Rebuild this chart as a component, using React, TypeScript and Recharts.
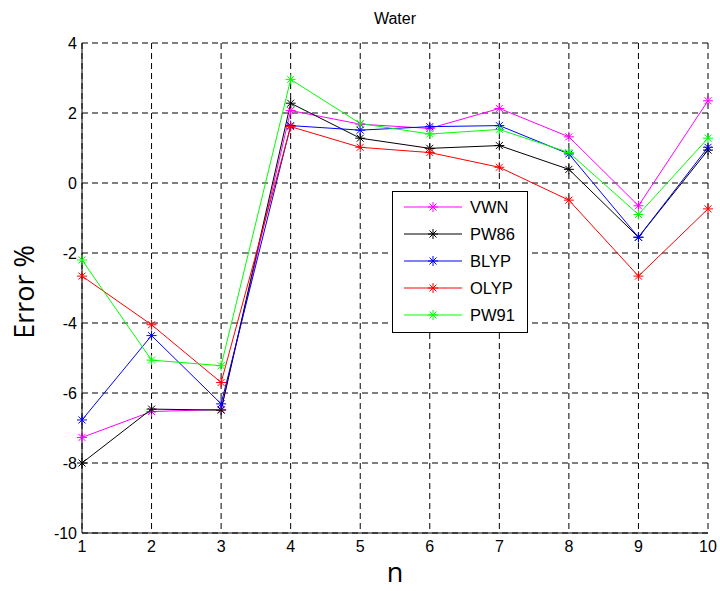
import { LineChart, Line, XAxis, YAxis, CartesianGrid } from "recharts";

const nValues = [1, 2, 3, 4, 5, 6, 7, 8, 9, 10];
const vwn = [-7.27, -6.53, -6.47, 2.07, 1.68, 1.56, 2.13, 1.32, -0.65, 2.35];
const pw86 = [-8.0, -6.46, -6.49, 2.28, 1.28, 0.99, 1.07, 0.39, -1.55, 0.94];
const blyp = [-6.77, -4.36, -6.31, 1.64, 1.51, 1.61, 1.64, 0.83, -1.55, 1.02];
const olyp = [-2.66, -4.05, -5.7, 1.61, 1.02, 0.87, 0.45, -0.49, -2.66, -0.74];
const pw91 = [-2.2, -5.06, -5.22, 2.96, 1.7, 1.4, 1.53, 0.87, -0.9, 1.28];
const yTicks = [-10, -8, -6, -4, -2, 0, 2, 4];

const series = [
  { key: "VWN", color: "#ff00ff", values: vwn },
  { key: "PW86", color: "#000000", values: pw86 },
  { key: "BLYP", color: "#0000ff", values: blyp },
  { key: "OLYP", color: "#ff0000", values: olyp },
  { key: "PW91", color: "#00ff00", values: pw91 },
];

const rows = nValues.map((n, i) => {
  const r: any = { n };
  series.forEach((s) => (r[s.key] = s.values[i]));
  return r;
});

const FONT = "'Liberation Sans', Arial, sans-serif";

function Star({ cx, cy, color, r = 5 }: any) {
  if (cx == null || cy == null) return null;
  const d = r * 0.7;
  return (
    <g stroke={color} strokeWidth={1} fill="none">
      <line x1={cx - r} y1={cy} x2={cx + r} y2={cy} />
      <line x1={cx} y1={cy - r} x2={cx} y2={cy + r} />
      <line x1={cx - d} y1={cy - d} x2={cx + d} y2={cy + d} />
      <line x1={cx - d} y1={cy + d} x2={cx + d} y2={cy - d} />
    </g>
  );
}

function LegendBox() {
  return (
    <div style={{
      position: "absolute", left: 392, top: 191, width: 136, height: 142,
      background: "#fff", border: "1px solid #000", boxSizing: "border-box",
    }}>
      <svg width={134} height={140}>
        {series.map((s, i) => {
          const y = 15 + i * 27;
          return (
            <g key={s.key}>
              <line x1={11} y1={y} x2={69} y2={y} stroke={s.color} strokeWidth={1} />
              <Star cx={40} cy={y} color={s.color} />
              <text x={77} y={y} dy="0.36em" fontSize={16.5} fontFamily={FONT} fill="#000">{s.key}</text>
            </g>
          );
        })}
      </svg>
    </div>
  );
}

export default function App() {
  return (
    <div style={{ position: "relative", width: 720, height: 591, background: "#fff" }}>
      <style>{`body{margin:0}`}</style>
      <LineChart width={720} height={591} data={rows} margin={{ top: 43, right: 12, bottom: 28, left: 42 }}>
        <CartesianGrid stroke="#000" strokeDasharray="6 4" strokeWidth={1} />
        <XAxis dataKey="n" type="number" domain={[1, 10]} ticks={nValues} interval={0}
          height={30} tickLine={false} axisLine={{ stroke: "#000" }}
          tick={{ fill: "#000", fontSize: 16, fontFamily: FONT }} />
        <XAxis xAxisId="top" orientation="top" dataKey="n" type="number" domain={[1, 10]}
          height={0} tick={false} tickLine={false} axisLine={{ stroke: "#000" }} />
        <YAxis type="number" domain={[-10, 4]} ticks={yTicks} interval={0} width={40}
          tickSize={3} tickLine={false} axisLine={{ stroke: "#000" }}
          tick={{ fill: "#000", fontSize: 16, fontFamily: FONT }} />
        <YAxis yAxisId="right" orientation="right" type="number" domain={[-10, 4]}
          width={0} tick={false} tickLine={false} axisLine={{ stroke: "#000" }} />
        {series.map((s) => (
          <Line key={s.key} dataKey={s.key} type="linear" stroke={s.color} strokeWidth={1}
            dot={(p: any) => <Star key={`${s.key}-${p.index}`} cx={p.cx} cy={p.cy} color={s.color} />}
            activeDot={false} isAnimationActive={false} />
        ))}
      </LineChart>
      <div style={{ position: "absolute", left: 0, width: 790, top: 10, textAlign: "center", fontFamily: FONT, fontSize: 16 }}>
        Water
      </div>
      <div style={{
        position: "absolute", left: 0, width: 790, top: 562, height: 20, lineHeight: "20px",
        textAlign: "center", fontFamily: "'Open Sans', sans-serif", fontSize: 27,
      }}>
        n
      </div>
      <div style={{
        position: "absolute", left: 23, top: 292, transform: "translate(-50%, -50%) rotate(-90deg)",
        whiteSpace: "nowrap", fontFamily: "'Open Sans', sans-serif", fontSize: 27,
      }}>
        Error %
      </div>
      <LegendBox />
    </div>
  );
}
